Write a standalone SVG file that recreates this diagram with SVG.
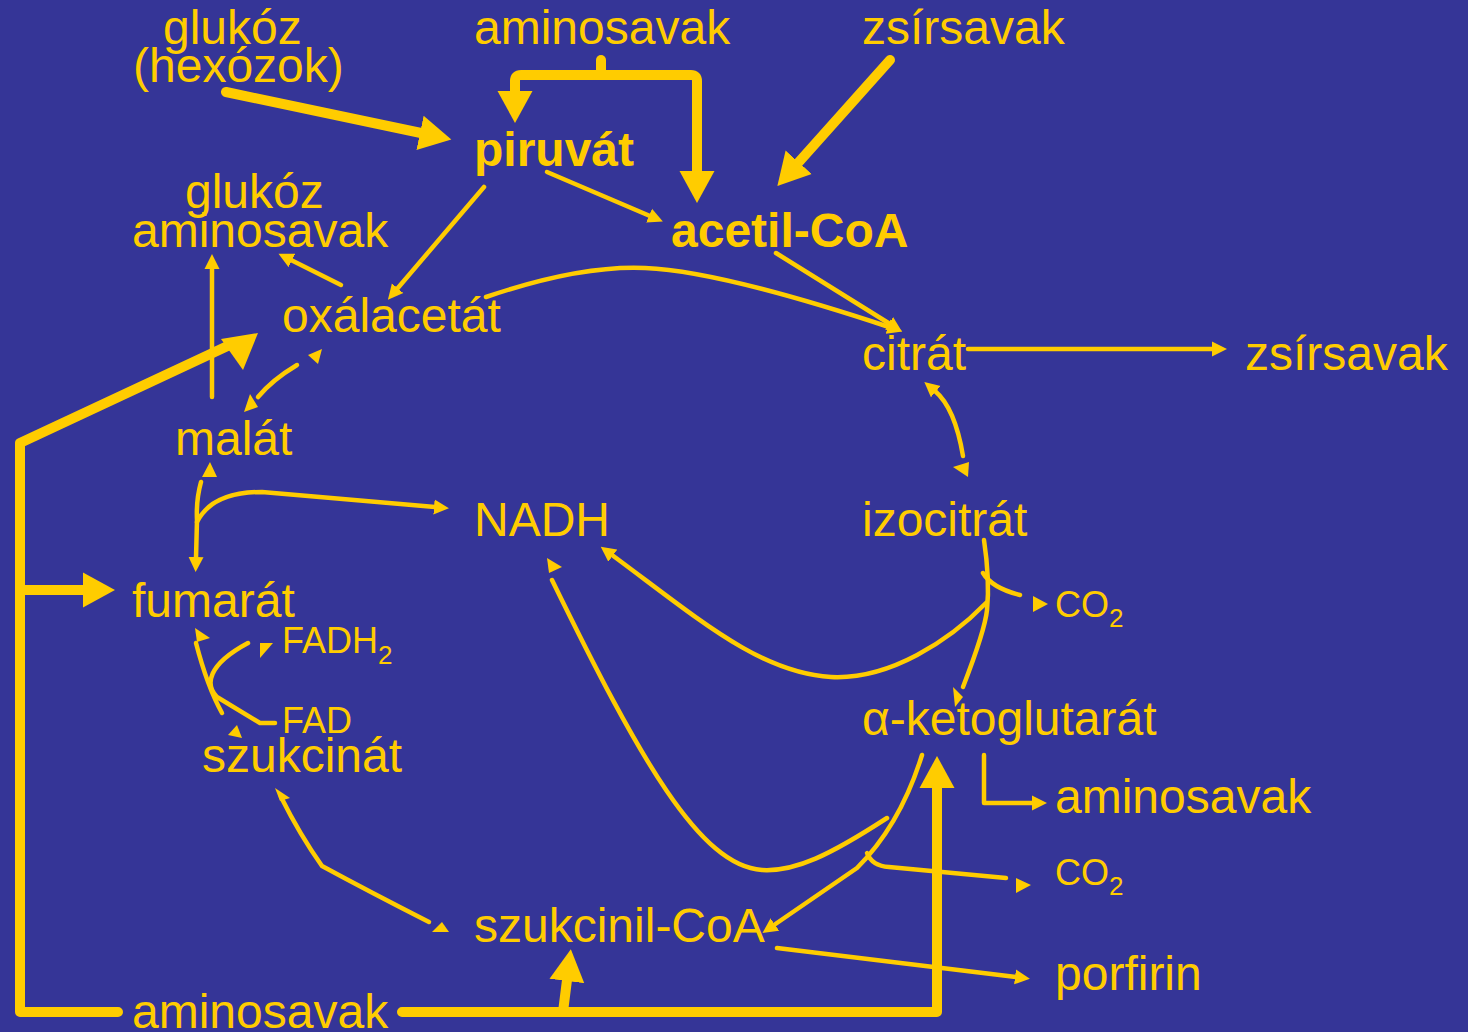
<svg xmlns="http://www.w3.org/2000/svg" width="1468" height="1032" viewBox="0 0 1468 1032">
<style>
.t{font-family:"Liberation Sans",Arial,sans-serif;font-size:48px;fill:#FFCC00}
.b{font-weight:bold}
.s{font-size:36px}
.sub{font-size:26px}
.k{fill:none;stroke:#FFCC00;stroke-width:10;stroke-linecap:round;stroke-linejoin:round}
.n{fill:none;stroke:#FFCC00;stroke-width:4.5;stroke-linecap:round;stroke-linejoin:round}
.h{fill:#FFCC00}
</style>
<defs>
<marker id="A" viewBox="0 -18 34 36" markerWidth="34" markerHeight="36" refX="1" refY="0" orient="auto" markerUnits="userSpaceOnUse"><path d="M0,-17.5 L32,0 L0,17.5 z" fill="#FFCC00"/></marker>
<marker id="a" viewBox="0 -8 16 16" markerWidth="16" markerHeight="16" refX="1" refY="0" orient="auto" markerUnits="userSpaceOnUse"><path d="M0,-7.5 L15,0 L0,7.5 z" fill="#FFCC00"/></marker>
</defs>
<rect width="1468" height="1032" fill="#353597"/>

<g id="connectors">
<!-- thick -->
<path class="k" d="M226,92 L421,133" marker-end="url(#A)"/>
<path class="k" d="M601,60 V75"/>
<path class="k" d="M606,75 H521 Q515,75 515,81 V92" marker-end="url(#A)"/>
<path class="k" d="M596,75 H691 Q697,75 697,81 V172" marker-end="url(#A)"/>
<path class="k" d="M890,60 L798,163" marker-end="url(#A)"/>
<path class="k" d="M118,1012 H20 V443 L234,343"/>
<polygon class="h" points="258,333 221,339 243,370"/>
<path class="k" d="M20,590 H84" marker-end="url(#A)"/>
<path class="k" d="M402,1012 H937 V787" marker-end="url(#A)"/>
<path class="k" d="M563,1012 L567,980" marker-end="url(#A)"/>
<!-- thin -->
<path class="n" d="M547,172 L650,216" marker-end="url(#a)"/>
<path class="n" d="M484,187 L397,289" marker-end="url(#a)"/>
<path class="n" d="M341,285 L291,260" marker-end="url(#a)"/>
<path class="n" d="M486,297 Q580,265 645,268 Q720,271 889,327" marker-end="url(#a)"/>
<path class="n" d="M776,253 L890,324" marker-end="url(#a)"/>
<path class="n" d="M968,349 L1213,349" marker-end="url(#a)"/>
<path class="n" d="M963,456 Q955,408 935,391" marker-end="url(#a)"/>
<polygon class="h" points="953,467 969,462 968,477"/>
<path class="n" d="M212,397 V268" marker-end="url(#a)"/>
<path class="n" d="M297,365 Q272,380 258,397"/>
<polygon class="h" points="244,412 258,407 250,394"/>
<polygon class="h" points="308,355 322,349 318,364"/>
<path class="n" d="M201,482 Q196,500 197,520 L196,558" marker-end="url(#a)"/>
<polygon class="h" points="210,462 202,477 217,477"/>
<path class="n" d="M197,522 Q212,492 262,492 L435,507" marker-end="url(#a)"/>
<path class="n" d="M222,713 C212,695 203,670 196,643"/>
<polygon class="h" points="195,628 210,638 197,642"/>
<path class="n" d="M275,723 L260,723 L217,697 C205,685 207,665 248,643"/>
<polygon class="h" points="260,643 273,643 260,658"/>
<polygon class="h" points="228,735 242,738 237,725"/>
<path class="n" d="M429,922 Q370,892 322,866 Q300,835 281,797"/>
<polygon class="h" points="275,788 290,798 280,801"/>
<polygon class="h" points="432,932 449,932 442,922"/>
<path class="n" d="M984,540 Q990,580 987,610 Q985,630 963,687"/>
<polygon class="h" points="953,687 963,697 955,707"/>
<path class="n" d="M983,573 Q992,588 1020,595"/>
<polygon class="h" points="1033,596 1048,604 1033,612"/>
<path class="n" d="M986,603 C950,640 890,680 831,677 C760,673 700,620 612,555" marker-end="url(#a)"/>
<path class="n" d="M887,818 C830,855 795,872 762,870 C700,866 640,760 552,580"/>
<polygon class="h" points="547,558 562,567 549,573"/>
<path class="n" d="M922,755 C905,810 880,845 857,868 L774,925" marker-end="url(#a)"/>
<path class="n" d="M867,853 Q872,866 889,867 L1006,878"/>
<polygon class="h" points="1016,878 1031,885 1016,893"/>
<path class="n" d="M777,948 L1016,977" marker-end="url(#a)"/>
<path class="n" d="M984,755 V803 H1033" marker-end="url(#a)"/>
</g>

<g id="n-glukoz-hexozok"><text class="t" x="163" y="44">glukóz</text><text class="t" x="133" y="82">(hexózok)</text></g>
<g id="n-aminosavak-top"><text class="t" x="474" y="44">aminosavak</text></g>
<g id="n-zsirsavak-top"><text class="t" x="862" y="44">zsírsavak</text></g>
<g id="n-piruvat"><text class="t b" x="474" y="166">piruvát</text></g>
<g id="n-acetilcoa"><text class="t b" x="671" y="247">acetil-CoA</text></g>
<g id="n-glukoz-aminosavak"><text class="t" x="185" y="208">glukóz</text><text class="t" x="132" y="247">aminosavak</text></g>
<g id="n-oxalacetat"><text class="t" x="282" y="332">oxálacetát</text></g>
<g id="n-citrat"><text class="t" x="862" y="370">citrát</text></g>
<g id="n-zsirsavak-right"><text class="t" x="1245" y="370">zsírsavak</text></g>
<g id="n-malat"><text class="t" x="175" y="455">malát</text></g>
<g id="n-nadh"><text class="t" x="474" y="536">NADH</text></g>
<g id="n-izocitrat"><text class="t" x="862" y="536">izocitrát</text></g>
<g id="n-fumarat"><text class="t" x="132" y="617">fumarát</text></g>
<g id="n-fadh2"><text class="t s" x="282" y="653">FADH<tspan class="sub" dy="11">2</tspan></text></g>
<g id="n-fad"><text class="t s" x="282" y="733">FAD</text></g>
<g id="n-szukcinat"><text class="t" x="202" y="772">szukcinát</text></g>
<g id="n-co2-upper"><text class="t s" x="1055" y="617">CO<tspan class="sub" dy="10">2</tspan></text></g>
<g id="n-aketoglutarat"><text class="t" x="862" y="735">α-ketoglutarát</text></g>
<g id="n-aminosavak-right"><text class="t" x="1055" y="813">aminosavak</text></g>
<g id="n-co2-lower"><text class="t s" x="1055" y="885">CO<tspan class="sub" dy="10">2</tspan></text></g>
<g id="n-szukcinilcoa"><text class="t" x="474" y="942">szukcinil-CoA</text></g>
<g id="n-porfirin"><text class="t" x="1055" y="990">porfirin</text></g>
<g id="n-aminosavak-bottom"><text class="t" x="132" y="1028">aminosavak</text></g>
</svg>
